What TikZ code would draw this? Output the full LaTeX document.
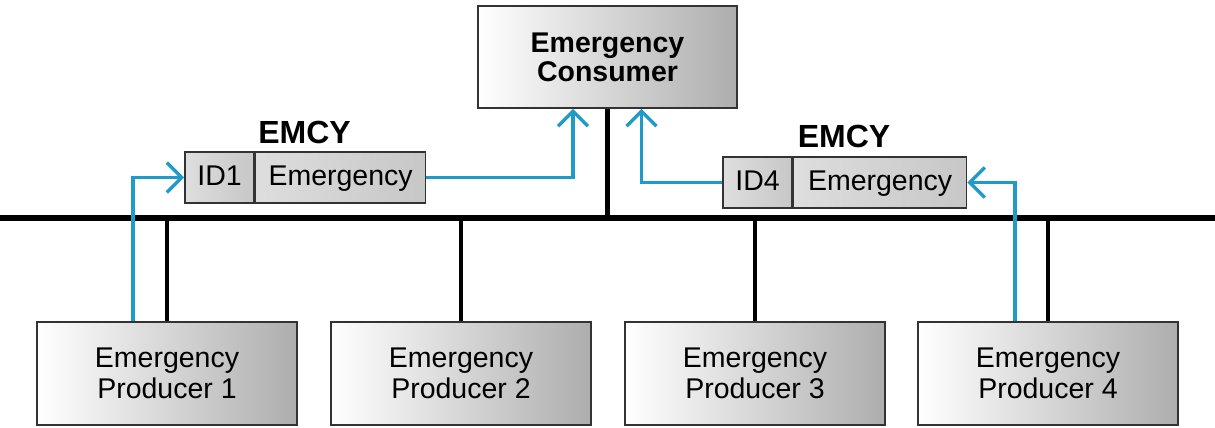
\documentclass[tikz,border=0pt]{standalone}
\usepackage{fontspec}
\setmainfont{Liberation Sans}
\usetikzlibrary{arrows.meta}
\definecolor{flow}{HTML}{1E9BC8}
\definecolor{edge}{HTML}{333333}
\tikzset{
  unitbox/.style={draw=edge, line width=1.6pt, left color=white, right color=black!32,
    minimum width=260pt, minimum height=103pt, inner sep=0pt, align=center,
    font=\fontsize{28.5}{31}\selectfont},
  cell/.style={draw=edge, line width=1.6pt, left color=black!13, right color=black!22,
    minimum height=51pt, inner sep=0pt, text height=21pt, text depth=5pt,
    font=\fontsize{28.5}{31}\selectfont},
  tag/.style={anchor=base, inner sep=0pt, font=\fontsize{32}{34}\selectfont\bfseries},
  bus/.style={line width=5.5pt, black},
  drop/.style={line width=4.5pt, black},
  flowline/.style={flow, line width=3.4pt},
  flowarrow/.style={flowline, -{Straight Barb[length=15pt,width=30pt]}},
}
\begin{document}
\begin{tikzpicture}[x=1pt,y=-1pt]
  \useasboundingbox (0,0) rectangle (1215,428);

  % consumer and bus line
  \node[unitbox, minimum width=259pt, minimum height=102pt,
        font=\fontsize{28.5}{29}\selectfont\bfseries] (cons) at (607.5,57)
        {Emergency\\Consumer};
  \coordinate (busL) at (0,218);
  \coordinate (busR) at (1215,218);
  \draw[bus] (busL) -- (busR);
  \draw[drop] (cons.south) -- (cons.south |- busL);

  % producers
  \node[unitbox] (p1) at (167,373.5) {Emergency\\Producer 1};
  \node[unitbox] (p2) at (461,373.5) {Emergency\\Producer 2};
  \node[unitbox] (p3) at (755,373.5) {Emergency\\Producer 3};
  \node[unitbox] (p4) at (1048,373.5) {Emergency\\Producer 4};
  \foreach \p in {p1,p2,p3,p4}
    \draw[drop] (\p.north) -- (\p.north |- busL);

  % EMCY frame from producer 1
  \node[cell, minimum width=69pt] (id1) at (219.5,177.5) {ID1};
  \node[cell, minimum width=170pt, anchor=west] (data1) at (id1.east) {Emergency};
  \node[tag] (tag1) at (304.5,143) {EMCY};

  % EMCY frame from producer 4
  \node[cell, minimum width=69pt] (id4) at (757.5,182.5) {ID4};
  \node[cell, minimum width=173pt, anchor=west] (data4) at (id4.east) {Emergency};
  \node[tag] (tag4) at (844,147) {EMCY};

  % message flow
  \draw[flowarrow] ([xshift=-34pt]p1.north) |- (id1.west);
  \draw[flowarrow] (data1.east) -| ([xshift=-34.5pt]cons.south);
  \draw[flowarrow] ([xshift=-33pt]p4.north) |- (data4.east);
  \draw[flowarrow] (id4.west) -| ([xshift=34pt]cons.south);
\end{tikzpicture}
\end{document}
